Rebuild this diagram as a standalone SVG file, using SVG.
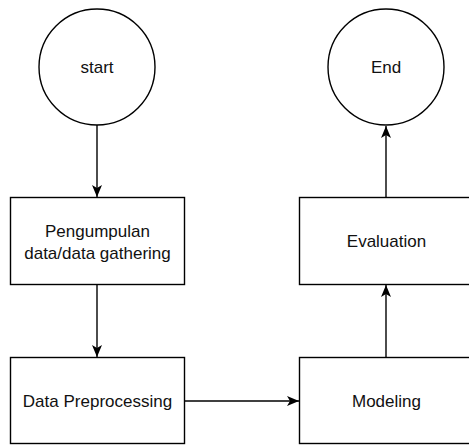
<svg xmlns="http://www.w3.org/2000/svg" width="469" height="445" viewBox="0 0 469 445">
<style>
.n{fill:#fff;stroke:#000;stroke-width:1.4}
.t{font-family:"Liberation Sans",Arial,sans-serif;font-size:17px;fill:#111;text-anchor:middle}
.c{fill:none;stroke:#000;stroke-width:1.4}
</style>
<defs>
<marker id="a" viewBox="0 0 12 10" refX="12" refY="5" markerWidth="12" markerHeight="10" markerUnits="userSpaceOnUse" orient="auto">
<path d="M0,0 L12,5 L0,10 L3,5 Z" fill="#000"/>
</marker>
</defs>
<g id="connectors">
<path class="c" d="M97,125 L97,197" marker-end="url(#a)"/>
<path class="c" d="M97,285 L97,357" marker-end="url(#a)"/>
<path class="c" d="M184,401 L299,401" marker-end="url(#a)"/>
<path class="c" d="M386,357 L386,285" marker-end="url(#a)"/>
<path class="c" d="M386,198 L386,126" marker-end="url(#a)"/>
</g>
<g id="start">
<circle class="n" cx="97" cy="67" r="58"/>
<text class="t" x="97" y="73">start</text>
</g>
<g id="end">
<circle class="n" cx="386" cy="67" r="58"/>
<text class="t" x="386" y="73">End</text>
</g>
<g id="gathering">
<rect class="n" x="10.5" y="197.5" width="174" height="87"/>
<text class="t" x="97.5" y="236.5">Pengumpulan</text>
<text class="t" x="97.5" y="259">data/data gathering</text>
</g>
<g id="preprocessing">
<rect class="n" x="10.5" y="357.5" width="174" height="86"/>
<text class="t" x="97.5" y="406.5">Data Preprocessing</text>
</g>
<g id="evaluation">
<rect class="n" x="299.5" y="197.5" width="174" height="87"/>
<text class="t" x="386.5" y="247">Evaluation</text>
</g>
<g id="modeling">
<rect class="n" x="299.5" y="357.5" width="174" height="86"/>
<text class="t" x="386.5" y="406.5">Modeling</text>
</g>
</svg>
